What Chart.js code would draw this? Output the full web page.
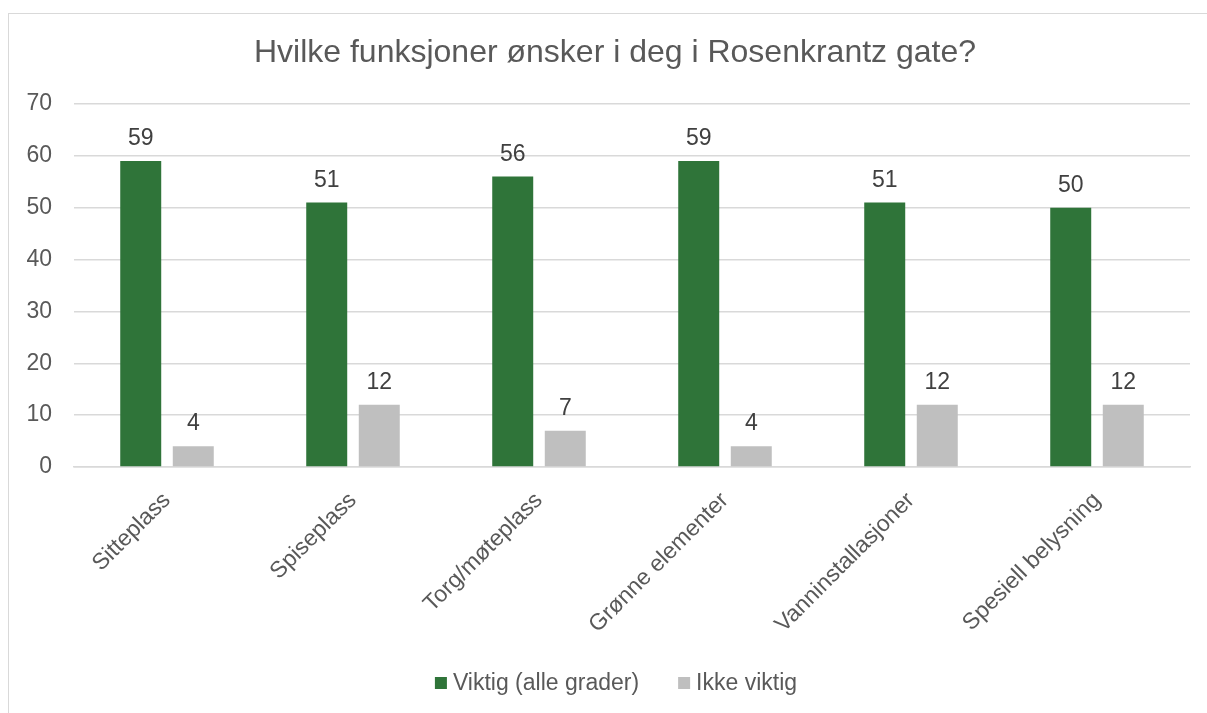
<!DOCTYPE html>
<html>
<head>
<meta charset="utf-8">
<script src="https://cdn.jsdelivr.net/npm/chart.js@4"></script>
<style>
  html, body { margin: 0; padding: 0; overflow: hidden; background: #fff; }
  #frame { position: absolute; left: 8px; top: 13px; width: 1240px; height: 760px; border: 1.5px solid #d9d9d9; }
  #wrap { position: absolute; left: 0; top: 0; width: 1207px; height: 713px; }
</style>
</head>
<body>
<div id="frame"></div>
<div id="wrap"><canvas id="myChart" width="1207" height="713"></canvas></div>
<script>
// data
const categories = ['Sitteplass', 'Spiseplass', 'Torg/møteplass', 'Grønne elementer', 'Vanninstallasjoner', 'Spesiell belysning'];
const viktig = [59, 51, 56, 59, 51, 50];
const ikkeViktig = [4, 12, 7, 4, 12, 12];
const yTicks = [0, 10, 20, 30, 40, 50, 60, 70];
const chartTitle = 'Hvilke funksjoner ønsker i deg i Rosenkrantz gate?';

const FONT = "'Liberation Sans', Arial, sans-serif";

// values above the bars
const valueLabels = {
    id: 'valueLabels',
    afterDatasetsDraw(chart) {
        const ctx = chart.ctx;
        ctx.save();
        ctx.font = '23px ' + FONT;
        ctx.fillStyle = '#404040';
        ctx.textAlign = 'center';
        ctx.textBaseline = 'alphabetic';
        chart.data.datasets.forEach((ds, i) => {
            chart.getDatasetMeta(i).data.forEach((bar, j) => {
                ctx.fillText(ds.data[j], bar.x, bar.y - 16);
            });
        });
        ctx.restore();
    }
};

// title and legend drawn by hand: the title sits right of the plot centre
// and the legend box/text gaps are tighter than chart.js' own legend
const titleAndLegend = {
    id: 'titleAndLegend',
    afterDraw(chart) {
        const ctx = chart.ctx;
        ctx.save();
        ctx.font = '32px ' + FONT;
        ctx.fillStyle = '#595959';
        ctx.textAlign = 'center';
        ctx.textBaseline = 'middle';
        ctx.fillText(chartTitle, 615, 53);

        ctx.font = '23px ' + FONT;
        ctx.textAlign = 'left';
        const box = 12, gap = 6, between = 39, cy = 683;
        let total = 0;
        chart.data.datasets.forEach((ds, i) => {
            total += box + gap + ctx.measureText(ds.label).width + (i ? between : 0);
        });
        let x = 616 - total / 2;
        chart.data.datasets.forEach((ds) => {
            ctx.fillStyle = ds.backgroundColor;
            ctx.fillRect(x, cy - box / 2, box, box);
            x += box + gap;
            ctx.fillStyle = '#595959';
            ctx.fillText(ds.label, x, cy + 1);
            x += ctx.measureText(ds.label).width + between;
        });
        ctx.restore();
    }
};

var ctx = document.getElementById('myChart').getContext('2d');
var chart = new Chart(ctx, {
    type: 'bar',
    data: {
        labels: categories,
        datasets: [{
            label: 'Viktig (alle grader)',
            backgroundColor: '#2f7439',
            data: viktig
        }, {
            label: 'Ikke viktig',
            backgroundColor: '#bfbfbf',
            data: ikkeViktig
        }]
    },
    plugins: [valueLabels, titleAndLegend],
    options: {
        responsive: false,
        animation: false,
        categoryPercentage: 0.565,
        barPercentage: 0.78,
        layout: { padding: { left: 0, right: 17, top: 104, bottom: 78 } },
        plugins: {
            title: { display: false },
            legend: { display: false },
            tooltip: { enabled: false }
        },
        scales: {
            x: {
                grid: { display: false, drawTicks: false },
                border: { color: '#d9d9d9', width: 1.5 },
                ticks: {
                    color: '#595959',
                    font: { family: FONT, size: 23 },
                    minRotation: 45,
                    maxRotation: 45,
                    padding: 20
                },
                afterFit(scale) { scale.height = 168; }
            },
            y: {
                min: 0,
                max: 70,
                afterBuildTicks(scale) { scale.ticks = yTicks.map(v => ({ value: v })); },
                grid: { color: '#d9d9d9', lineWidth: 1.5, drawTicks: false },
                border: { display: false },
                ticks: {
                    color: '#595959',
                    font: { family: FONT, size: 23 },
                    padding: 22
                },
                afterFit(scale) { scale.width = 74; }
            }
        }
    }
});
</script>
</body>
</html>
